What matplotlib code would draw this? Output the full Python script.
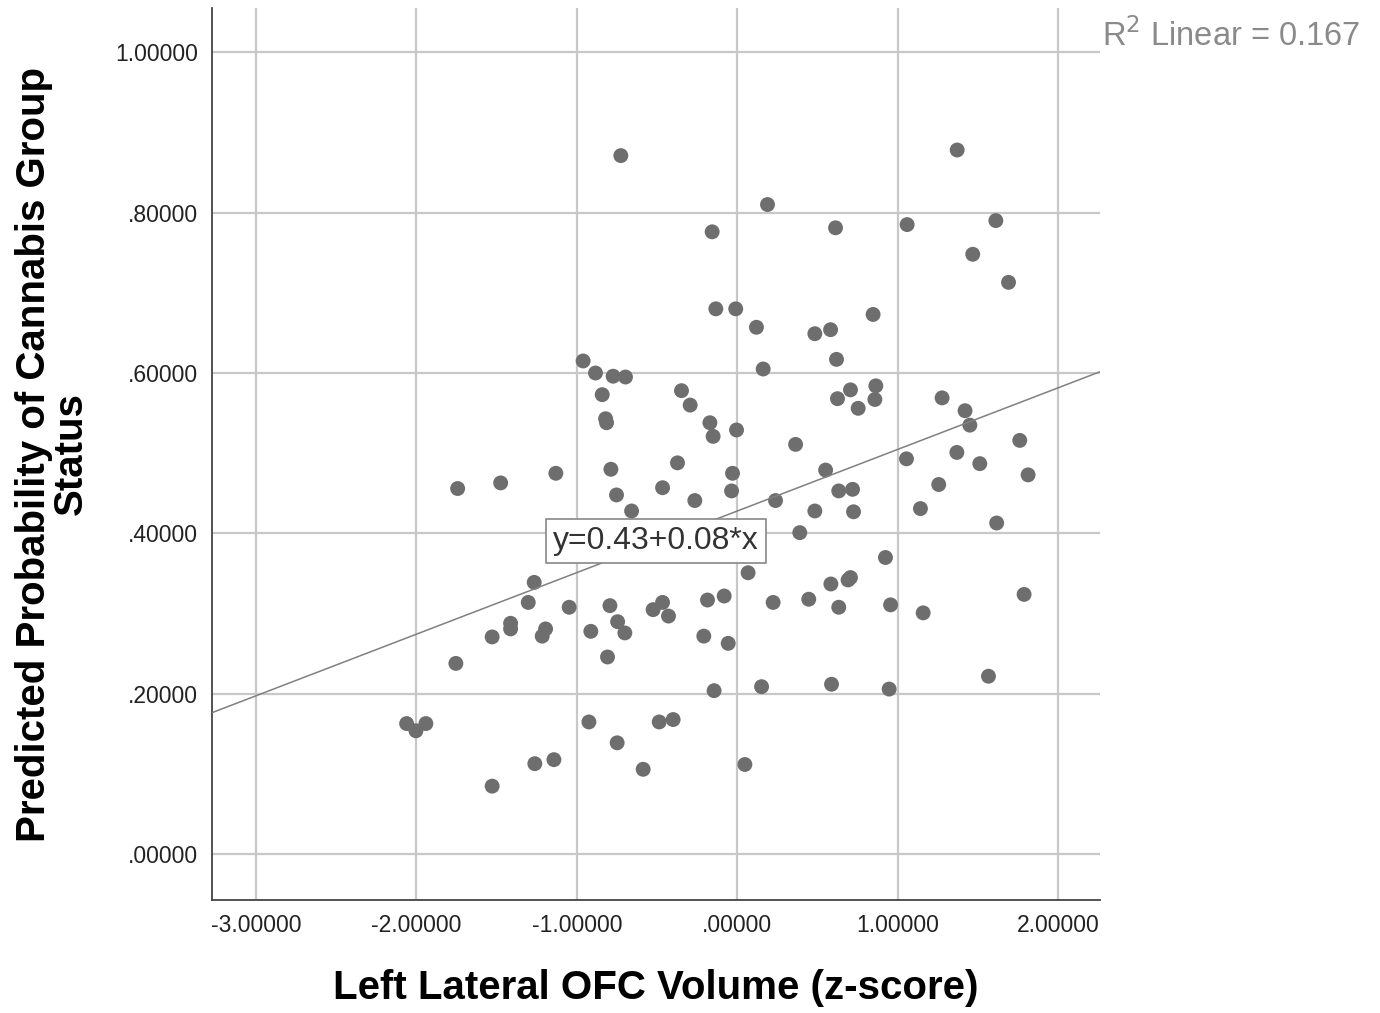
import numpy as np
import matplotlib
matplotlib.use('Agg')
import matplotlib.pyplot as plt

plt.rcParams['font.family'] = ['Liberation Sans', 'DejaVu Sans']

# left lateral OFC volume (z) vs predicted probability
ofc_z = [-0.726, -0.157, -0.134, -0.010, -0.961, -0.884, -0.774, -0.697, -0.842, -0.348,
         -0.294, -0.821, -0.815, -0.171, -0.151, -0.005, 1.370, 0.188, 0.612, 1.058,
         1.611, 1.467, 1.690, 0.119, 0.483, 0.581, 0.846, 0.618, 0.161, 0.624,
         0.705, 0.753, 0.863, 0.857, 1.276, 1.419, 1.449, 1.760, 0.363, 1.368,
         -1.743, -1.475, -1.131, -0.788, -0.373, -0.753, -0.466, -0.265, -0.030, -0.036,
         -0.659, -1.266, -1.303, -1.413, -1.413, -1.528, -1.754, -1.195, -1.216, -1.048,
         -0.913, -0.794, -0.746, -0.701, -0.809, -0.525, -0.466, -0.429, -0.186, -0.082,
         -0.209, -0.057, -0.145, -2.061, -2.003, -1.941, -0.925, -0.487, -0.400, -0.749,
         -1.262, -1.143, -0.587, -1.528, 0.047, 0.550, 1.054, 1.511, 1.812, 0.238,
         0.632, 0.718, 0.483, 0.724, 1.255, 1.141, 1.616, 0.389, 0.923, 0.067,
         0.583, 0.705, 0.690, 0.223, 0.445, 0.632, 0.955, 1.158, 1.787, 0.151,
         0.587, 0.946, 1.565]
pred_prob = [0.871, 0.776, 0.680, 0.680, 0.615, 0.600, 0.596, 0.595, 0.573, 0.578,
             0.560, 0.543, 0.538, 0.538, 0.521, 0.529, 0.878, 0.810, 0.781, 0.785,
             0.790, 0.748, 0.713, 0.657, 0.649, 0.654, 0.673, 0.617, 0.605, 0.568,
             0.579, 0.556, 0.584, 0.567, 0.569, 0.553, 0.535, 0.516, 0.511, 0.501,
             0.456, 0.463, 0.475, 0.480, 0.488, 0.448, 0.457, 0.441, 0.475, 0.453,
             0.428, 0.339, 0.314, 0.288, 0.281, 0.271, 0.238, 0.281, 0.272, 0.308,
             0.278, 0.310, 0.290, 0.276, 0.246, 0.305, 0.314, 0.297, 0.317, 0.322,
             0.272, 0.263, 0.204, 0.163, 0.154, 0.163, 0.165, 0.165, 0.168, 0.139,
             0.113, 0.118, 0.106, 0.085, 0.112, 0.479, 0.493, 0.487, 0.473, 0.441,
             0.453, 0.455, 0.428, 0.427, 0.461, 0.431, 0.413, 0.401, 0.370, 0.351,
             0.337, 0.345, 0.342, 0.314, 0.318, 0.308, 0.311, 0.301, 0.324, 0.209,
             0.212, 0.206, 0.222]

intercept = 0.428
slope = 0.0768
r2 = 0.167

xticks = [-3, -2, -1, 0, 1, 2]
xtick_labels = ['-3.00000', '-2.00000', '-1.00000', '.00000', '1.00000', '2.00000']
yticks = [0.0, 0.2, 0.4, 0.6, 0.8, 1.0]
ytick_labels = ['.00000', '.20000', '.40000', '.60000', '.80000', '1.00000']

fig = plt.figure(figsize=(13.8, 10.13), dpi=100)
ax = fig.add_axes([0.1536, 0.1115, 0.6435, 0.8806])

xlim = (-3.274, 2.26)
ylim = (-0.057, 1.055)

ax.grid(True, color='#c8c8c8', linewidth=1.6, zorder=0)
ax.set_axisbelow(True)

ax.scatter(ofc_z, pred_prob, s=115, color='#6e6e6e', edgecolors='none', zorder=3)

xs = np.array(xlim)
ax.plot(xs, intercept + slope * xs, color='#808080', linewidth=1.1, zorder=4)

ax.text(-0.508, 0.390, 'y=%.2f+%.2f*x' % (intercept, slope), fontsize=23, color='#333333',
        ha='center', va='center', zorder=5,
        bbox=dict(boxstyle='square,pad=0.22', facecolor='white', edgecolor='#888888', linewidth=1.2))

ax.set_xlim(xlim)
ax.set_ylim(ylim)
ax.set_xticks(xticks)
ax.set_xticklabels(xtick_labels)
ax.set_yticks(yticks)
ax.set_yticklabels(ytick_labels)
ax.tick_params(length=0, labelsize=16.5, colors='#222222', pad=10)

for s in ['top', 'right']:
    ax.spines[s].set_visible(False)
for s in ['left', 'bottom']:
    ax.spines[s].set_color('#444444')
    ax.spines[s].set_linewidth(1.3)

ax.set_xlabel('Left Lateral OFC Volume (z-score)', fontsize=29, fontweight='bold', va='center')
ax.xaxis.set_label_coords(0.5, -0.0987)
ax.set_ylabel('Predicted Probability of Cannabis Group\nStatus', fontsize=29, fontweight='bold',
              linespacing=0.95, va='center')
ax.yaxis.set_label_coords(-0.180, 0.5)

fig.text(0.7986, 0.9645, 'R$^2$ Linear = %.3f' % r2, fontsize=23.5, color='#8a8a8a', va='center')

fig.savefig('out.png', dpi=100, facecolor='white')
